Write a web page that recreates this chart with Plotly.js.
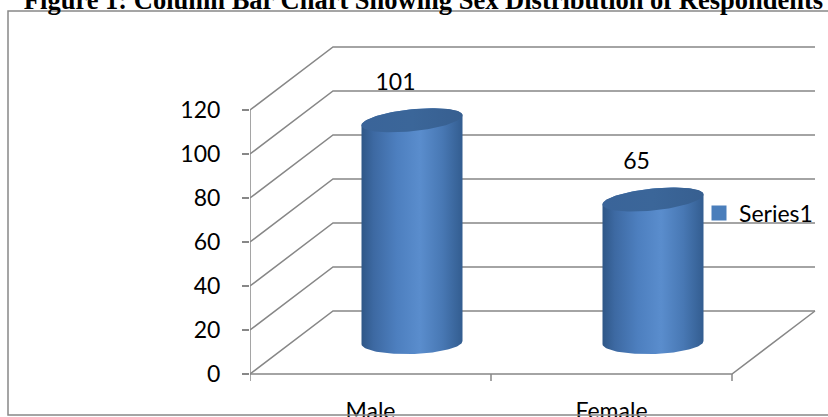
<!DOCTYPE html>
<html>
<head>
<meta charset="utf-8">
<script src="https://cdn.plot.ly/plotly-3.0.1.min.js"></script>
<style>
  html, body { margin: 0; padding: 0; background: #ffffff; }
  #chart { width: 828px; height: 417px; }
</style>
</head>
<body>
<div id="chart"></div>
<script>
// ---- data ----
const categories = ['Male', 'Female'];
const counts = [101, 65];
const yTickValues = [0, 20, 40, 60, 80, 100, 120];
const seriesName = 'Series1';
const chartTitle = 'Figure 1: Column Bar Chart Showing Sex Distribution of Respondents';

// ---- geometry (pixel scale of the pseudo-3D frame) ----
const W = 828, H = 417;
const M = { l: 250, r: 0, t: 30, b: 22 };
const plotW = W - M.l - M.r, plotH = H - M.t - M.b;
const KX = 241;          // px per category (front plane)
const KY = 2.2;          // px per value unit
const zeroPx = 374;      // pixel row of value 0 on the front plane
const xRange = [0, plotW / KX];
const yRange = [(zeroPx - (H - M.b)) / KY, (zeroPx - M.t) / KY];
const DX = 83 / KX, DY = 63 / KY;          // depth offset (front -> back wall)
const halfW = 50.5 / KX;
const bTop = 11 / KY, sTop = 5 / KY;
const bBot = 11.5 / KY, sBot = 1.5 / KY;
const gridColor = '#878787';
const textFont = { family: 'Lato, Carlito, sans-serif', size: 23, color: '#000000' };

const traces = [];

// back wall gridlines + side diagonals
const gx = [], gy = [];
const nCat = categories.length;
yTickValues.forEach(v => {
  gx.push(0, DX, nCat + DX, null);
  gy.push(v, v + DY, v + DY, null);
});
// front axis line, floor front edge, floor right edge
const yMax = yTickValues[yTickValues.length - 1];
gx.push(0, 0, null, 0, nCat, nCat + DX, null);
gy.push(yMax, 0, null, 0, 0, DY, null);
// category boundary ticks
const tickDown = 7 / KY;
for (let k = 0; k <= nCat; k++) { gx.push(k, k, null); gy.push(0, -tickDown, null); }
traces.push({
  type: 'scatter', mode: 'lines', x: gx, y: gy, hoverinfo: 'skip',
  line: { color: gridColor, width: 1.5 }, showlegend: false, cliponaxis: false
});

function ell(cx, cy, b, s, t) {
  return [cx + halfW * Math.cos(t), cy + b * Math.sin(t) + s * Math.cos(t)];
}

const N = 60;
const bodyScale = [[0, '#2f5787'], [0.12, '#3d69a2'], [0.35, '#4d7fbf'], [0.58, '#5a8dcd'], [0.8, '#4878b4'], [1, '#335d90']];
const topScale = [[0, '#3a6499'], [0.5, '#3b6699'], [1, '#375f90']];

counts.forEach((v, i) => {
  const cx = i + 0.5 + DX / 2;
  const cyTop = v + DY / 2;
  const cyBot = DY / 2;
  const bx = [], by = [];
  for (let j = 0; j <= N; j++) { const t = Math.PI - Math.PI * j / N; const p = ell(cx, cyTop, bTop, sTop, t); bx.push(p[0]); by.push(p[1]); }
  for (let j = 0; j <= N; j++) { const t = -Math.PI * j / N; const p = ell(cx, cyBot, bBot, sBot, t); bx.push(p[0]); by.push(p[1]); }
  traces.push({
    type: 'scatter', mode: 'lines', x: bx, y: by, fill: 'toself',
    fillgradient: { type: 'horizontal', colorscale: bodyScale },
    line: { width: 0, color: 'rgba(0,0,0,0)' }, hoverinfo: 'skip', showlegend: false
  });
  const tx = [], ty = [];
  for (let j = 0; j <= N * 2; j++) { const t = 2 * Math.PI * j / (N * 2); const p = ell(cx, cyTop, bTop, sTop, t); tx.push(p[0]); ty.push(p[1]); }
  traces.push({
    type: 'scatter', mode: 'lines', x: tx, y: ty, fill: 'toself',
    fillgradient: { type: 'horizontal', colorscale: topScale },
    line: { width: 0, color: 'rgba(0,0,0,0)' }, hoverinfo: 'skip', showlegend: false
  });
});

// data labels
traces.push({
  type: 'scatter', mode: 'text',
  x: counts.map((v, i) => i + 0.5 + DX / 2 - 16.5 / KX),
  y: counts.map(v => v + DY / 2 + 36 / KY),
  text: counts.map(v => String(v)), textposition: 'middle center',
  textfont: textFont,
  hoverinfo: 'skip', showlegend: false, cliponaxis: false
});

// legend entry
traces.push({
  type: 'scatter', mode: 'markers', x: [null], y: [null], name: seriesName,
  marker: { symbol: 'square', size: 15, color: '#4a7ebb' }, showlegend: true
});

const layout = {
  width: W, height: H,
  margin: M,
  paper_bgcolor: '#ffffff', plot_bgcolor: 'rgba(0,0,0,0)',
  title: {
    text: chartTitle, xref: 'container', yref: 'container',
    x: 423.5 / W, xanchor: 'center', y: 1, yanchor: 'middle',
    font: { family: 'Liberation Serif, Times New Roman, serif', size: 26.5, weight: 'bold', color: '#000000' }
  },
  xaxis: {
    range: xRange, showgrid: false, zeroline: false, showline: false,
    tickmode: 'array', tickvals: categories.map((c, i) => i + 0.5), ticktext: categories,
    ticks: '', tickfont: textFont,
    fixedrange: true
  },
  yaxis: {
    range: yRange, showgrid: false, zeroline: false, showline: false,
    tickmode: 'array', tickvals: yTickValues, ticktext: yTickValues.map(String),
    ticks: 'outside', ticklen: 7, tickwidth: 1.5, tickcolor: gridColor,
    ticklabelstandoff: 17,
    tickfont: textFont,
    fixedrange: true
  },
  showlegend: true,
  legend: {
    x: (699 - M.l) / plotW, xanchor: 'left', y: ((H - M.b) - 213) / plotH, yanchor: 'middle',
    bgcolor: 'rgba(0,0,0,0)', borderwidth: 0,
    font: textFont
  },
  shapes: [{
    type: 'rect', xref: 'paper', yref: 'paper', layer: 'above',
    x0: (8 - M.l) / plotW, x1: (840 - M.l) / plotW,
    y0: ((H - M.b) - 415) / plotH, y1: ((H - M.b) - 11) / plotH,
    line: { color: '#888888', width: 1.5 }, fillcolor: 'rgba(0,0,0,0)'
  }]
};

Plotly.newPlot('chart', traces, layout, { displayModeBar: false, staticPlot: true });
</script>
</body>
</html>
